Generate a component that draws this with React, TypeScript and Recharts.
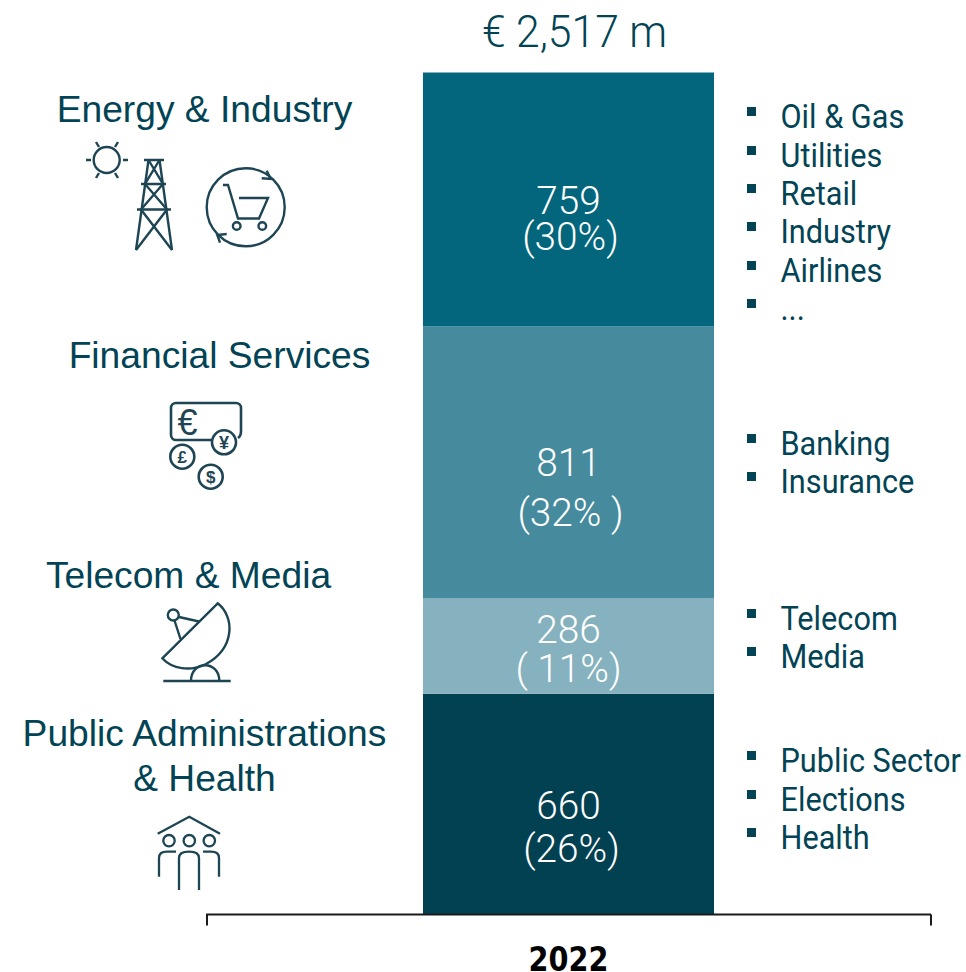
import { BarChart, Bar, XAxis, YAxis, LabelList } from 'recharts'

const years = ['2022']
const energyValues = [759]
const financialValues = [811]
const telecomValues = [286]
const publicValues = [660]
const yMax = 2516

const totalLabel = '€ 2,517 m'
const energyItems = ['Oil & Gas', 'Utilities', 'Retail', 'Industry', 'Airlines', '...']
const financialItems = ['Banking', 'Insurance']
const telecomItems = ['Telecom', 'Media']
const publicItems = ['Public Sector', 'Elections', 'Health']

const chartData = years.map((year, i) => ({
  year,
  publicAdmin: publicValues[i],
  telecom: telecomValues[i],
  financial: financialValues[i],
  energy: energyValues[i],
}))

const DARK = '#024455'
const ICON = '#1d4553'
const TECH_FONT = 'Roboto, sans-serif'
const ARIAL = '"Liberation Sans", Arial, sans-serif'

const ValueLabel = ({ x, y, width, height, value, pct, dy1, dy2, shift = 0 }: any) => {
  const cx = x + width / 2
  const cy = y + height / 2
  return (
    <g fill="#fff" fontFamily={TECH_FONT} fontSize={38} fontWeight={300} textAnchor="middle">
      <text transform={`translate(${cx},${cy + dy1}) scale(1.02,1)`}>{value}</text>
      <text transform={`translate(${cx + shift},${cy + dy2}) scale(1.02,1)`} xmlSpace="preserve">{pct}</text>
    </g>
  )
}

const YearTick = ({ x, payload }: any) => (
  <text
    transform={`translate(${x},971) scale(0.87,1)`}
    fill="#000"
    fontFamily="DejaVu Sans"
    fontSize={33}
    fontWeight={700}
    textAnchor="middle"
  >
    {payload.value}
  </text>
)

const BulletList = ({ items, ys }: { items: string[]; ys: number[] }) => (
  <g>
    {items.map((item, i) => (
      <g key={item}>
        <rect x={747} y={ys[i] - 21} width={9} height={9} fill={DARK} />
        <text
          transform={`translate(780.5,${ys[i]}) scale(0.93,1)`}
          fill={DARK}
          fontFamily={TECH_FONT}
          fontSize={33}
        >
          {item}
        </text>
      </g>
    ))}
  </g>
)

const SideLabel = ({ x, y, children }: any) => (
  <text x={x} y={y} fill={DARK} fontFamily={ARIAL} fontSize={37.2} textAnchor="middle">
    {children}
  </text>
)

const EnergyIcons = () => (
  <g fill="none" stroke={ICON} strokeWidth={2.4}>
    <circle cx={106.7} cy={160} r={13} />
    <path d="M86 160h5M123 160h5M96 142l3 5M118 142l-3 5M96 178l3-5M118 178l-3-5" />
    <path d="M144 160h20M141 184h25M137 209.5h34M148.5 160L136 250M159.5 160L172 250" />
    <path d="M148.5 160L163 184L141 209.5L172 250M159.5 160L145 184L167 209.5L136 250" />
    <circle cx={245.7} cy={207.3} r={39} />
    <path d="M266.7 170.7L270.7 179L261.7 178.3M226.7 234L217.3 235L220 242.7" />
    <path d="M223 185h5l10 33.5h21l9-20.5h-29" />
    <circle cx={236.7} cy={226} r={3.8} />
    <circle cx={262.3} cy={226} r={3.8} />
  </g>
)

const FinancialIcons = () => (
  <g>
    <g fill="none" stroke={ICON} strokeWidth={2.6}>
      <path d="M213 440H176a5 5 0 0 1-5-5V408a5 5 0 0 1 5-5H236a5 5 0 0 1 5 5V431q0 5-3 7" />
      <circle cx={224} cy={442.3} r={12} />
      <circle cx={182.3} cy={456.7} r={12} />
      <circle cx={210.7} cy={476.7} r={12} />
    </g>
    <g fill={ICON} fontFamily={ARIAL} textAnchor="middle" fontWeight={700}>
      <text x={187.5} y={435} fontSize={36} fontWeight={400}>€</text>
      <text x={224} y={449} fontSize={18}>¥</text>
      <text x={182.3} y={463} fontSize={17}>£</text>
      <text x={210.7} y={483} fontSize={17}>$</text>
    </g>
  </g>
)

const TelecomIcon = () => (
  <g fill="none" stroke={ICON} strokeWidth={2.4}>
    <path d="M162.3 658.3L217.7 603.3C235 617 235 648 206 664C190 672 172 669 162.3 658.3Z" />
    <circle cx={173.3} cy={615} r={5.5} />
    <path d="M179 617L199 621.5M174.5 620.5L180.5 639" />
    <path d="M163.3 681H230.7M191 681C191 660 219.3 660 219.3 681" />
  </g>
)

const PublicIcon = () => (
  <g fill="none" stroke={ICON} strokeWidth={2.3}>
    <path d="M157.7 833.7L189.3 816.7L220 833.7" />
    <circle cx={169} cy={840.7} r={5.7} />
    <circle cx={189.3} cy={840.7} r={5.7} />
    <circle cx={209.3} cy={840.7} r={5.7} />
    <path d="M159 876.7V858Q159 851.7 167 851.7H176" />
    <path d="M219 876.7V858Q219 851.7 211 851.7H203" />
    <path d="M179 890V858Q179 851.7 189 851.7Q199 851.7 199 858V890" />
  </g>
)

export default function App() {
  return (
    <div style={{ position: 'absolute', left: 0, top: 0, width: 966, height: 972, background: '#fff' }}>
      <BarChart
        width={966}
        height={972}
        data={chartData}
        margin={{ top: 72.5, right: 35, bottom: 0, left: 206 }}
      >
        <XAxis
          dataKey="year"
          height={57.5}
          axisLine={{ stroke: '#1a1a1a', strokeWidth: 2 }}
          tickLine={false}
          tick={<YearTick />}
        />
        <YAxis hide domain={[0, yMax]} />
        <Bar dataKey="publicAdmin" stackId="a" fill="#024152" barSize={291} isAnimationActive={false}>
          <LabelList dataKey="publicAdmin" content={(p: any) => <ValueLabel {...p} pct="(26%)" dy1={15} dy2={58} shift={3} />} />
        </Bar>
        <Bar dataKey="telecom" stackId="a" fill="#85b2be" barSize={291} isAnimationActive={false}>
          <LabelList dataKey="telecom" content={(p: any) => <ValueLabel {...p} pct="( 11%)" dy1={-3} dy2={36} shift={0} />} />
        </Bar>
        <Bar dataKey="financial" stackId="a" fill="#458b9d" barSize={291} isAnimationActive={false}>
          <LabelList dataKey="financial" content={(p: any) => <ValueLabel {...p} pct="(32% )" dy1={14} dy2={64} shift={2} />} />
        </Bar>
        <Bar dataKey="energy" stackId="a" fill="#03667c" barSize={291} isAnimationActive={false}>
          <LabelList dataKey="energy" content={(p: any) => <ValueLabel {...p} pct="(30%)" dy1={14} dy2={50} shift={2} />} />
        </Bar>

        <path d="M207 914.5V925.5M931 914.5V925.5" stroke="#1a1a1a" strokeWidth={2} fill="none" />

        <text
          transform="translate(574.5,47) scale(0.97,1)"
          fill={DARK}
          fontFamily={TECH_FONT}
          fontSize={44}
          fontWeight={300}
          textAnchor="middle"
        >
          {totalLabel}
        </text>

        <SideLabel x={204.5} y={122}>Energy &amp; Industry</SideLabel>
        <SideLabel x={219.5} y={368}>Financial Services</SideLabel>
        <SideLabel x={188.5} y={588}>Telecom &amp; Media</SideLabel>
        <SideLabel x={204.5} y={746}>Public Administrations</SideLabel>
        <SideLabel x={204.5} y={791}>&amp; Health</SideLabel>

        <EnergyIcons />
        <FinancialIcons />
        <TelecomIcon />
        <PublicIcon />

        <BulletList items={energyItems} ys={[128, 167, 205, 243, 282, 320]} />
        <BulletList items={financialItems} ys={[455, 493]} />
        <BulletList items={telecomItems} ys={[630, 668]} />
        <BulletList items={publicItems} ys={[772, 811, 849]} />
      </BarChart>
    </div>
  )
}
